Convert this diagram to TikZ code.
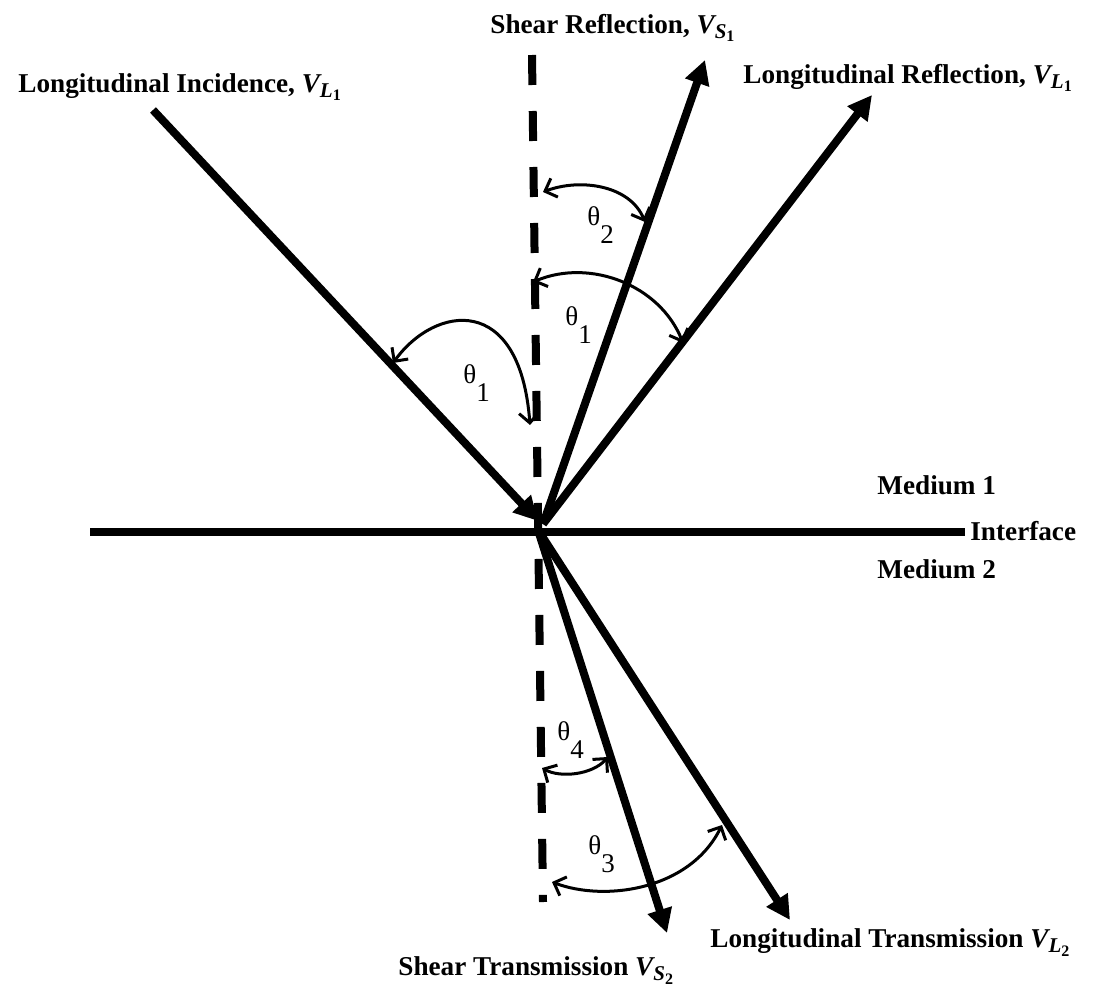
\documentclass[tikz,border=0pt]{standalone}
\usepackage{fontspec}
\setmainfont{Liberation Serif}
\usetikzlibrary{arrows.meta}
\newcommand{\Vsub}[2]{{\bfseries\itshape V\raisebox{-0.45ex}{\fontsize{10.5pt}{10.5pt}\selectfont #1\raisebox{-0.35ex}{\fontsize{8pt}{8pt}\selectfont\upshape #2}}}}
\newcommand{\thsub}[1]{θ\raisebox{-9pt}{#1}}
\begin{document}
\begin{tikzpicture}[x=0.5pt,y=-0.5pt,
  thick line/.style={line width=4pt},
  ray/.style={thick line,-{Triangle[length=12pt,width=12pt]}},
  dashline/.style={thick line,dash pattern=on 15pt off 13pt},
  anglearc/.style={line width=1.5pt,{Straight Barb[length=5pt,width=10pt,line width=1.5pt]}-{Straight Barb[length=5pt,width=10pt,line width=1.5pt]}},
  lbl/.style={font=\fontsize{13.6pt}{16pt}\selectfont\bfseries,anchor=base west,inner sep=0pt},
  thlbl/.style={font=\fontsize{13.5pt}{16pt}\selectfont,anchor=base west,inner sep=0pt}]
\useasboundingbox (0,0) rectangle (1108,985);
% key points
\coordinate (Inc) at (153,110);
\coordinate (Oi) at (538,521);
\coordinate (Or) at (543,524);
\coordinate (Ot) at (538,530);
\coordinate (SR) at (705,60);
\coordinate (LR) at (872,95);
\coordinate (ST) at (667,933);
\coordinate (LT) at (790,920);
\coordinate (IL) at (90,532);
\coordinate (IR) at (965,532);
\coordinate (DT) at (532,55);
\coordinate (DB) at (543,902);
% dashed normal
\draw[dashline] (DT) -- (DB);
% interface
\draw[thick line] (IL) -- (IR);
% rays
\draw[ray] (Inc) -- (Oi);
\draw[ray] (Or) -- (SR);
\draw[ray] (Or) -- (LR);
\draw[ray] (Ot) -- (ST);
\draw[ray] (Ot) -- (LT);
% angle arcs
\coordinate (a1s) at (393,363);
\coordinate (a1e) at (530,425);
\draw[anglearc] (a1s) .. controls (435,305) and (520,292) .. (a1e);
\coordinate (b1s) at (533,282);
\coordinate (b1e) at (683,343);
\draw[anglearc] (b1s) .. controls (590,258) and (660,285) .. (b1e);
\coordinate (a2s) at (543,192);
\coordinate (a2e) at (645,222);
\draw[anglearc] (a2s) .. controls (580,178) and (630,185) .. (a2e);
\coordinate (a4s) at (542,768);
\coordinate (a4e) at (608,757);
\draw[anglearc] (a4s) .. controls (560,778) and (592,775) .. (a4e);
\coordinate (a3s) at (552,882);
\coordinate (a3e) at (722,825);
\draw[anglearc] (a3s) .. controls (605,902) and (690,890) .. (a3e);
% angle labels
\node[thlbl] (t1l) at (463,383) {\thsub{1}};
\node[thlbl] (t1r) at (565,325) {\thsub{1}};
\node[thlbl] (t2) at (587,225) {\thsub{2}};
\node[thlbl] (t4) at (557,740) {\thsub{4}};
\node[thlbl] (t3) at (588,854) {\thsub{3}};
% text labels
\node[lbl] (linc) at (18,92) {Longitudinal Incidence, \Vsub{L}{1}};
\node[lbl] (lsr) at (490,33) {Shear Reflection, \Vsub{S}{1}};
\node[lbl] (llr) at (743,83) {Longitudinal Reflection, \Vsub{L}{1}};
\node[lbl] (m1) at (877,494) {Medium 1};
\node[lbl] (itf) at (970,540) {Interface};
\node[lbl] (m2) at (877,578) {Medium 2};
\node[lbl] (llt) at (710,947) {Longitudinal Transmission \Vsub{L}{2}};
\node[lbl] (lst) at (398,975) {Shear Transmission \Vsub{S}{2}};
\end{tikzpicture}
\end{document}
